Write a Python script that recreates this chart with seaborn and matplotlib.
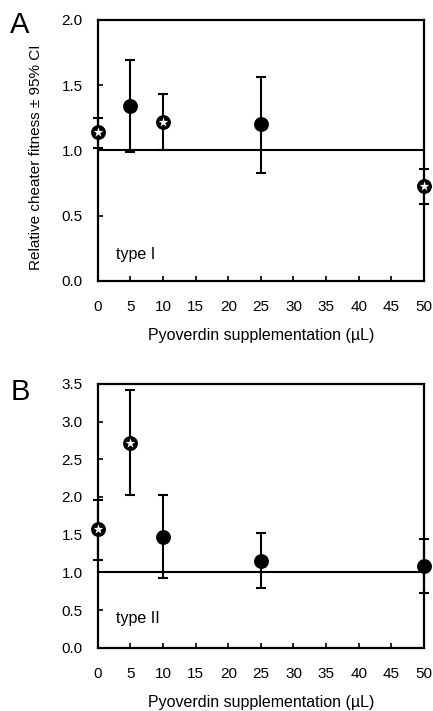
import seaborn as sns
import pandas as pd
import matplotlib.pyplot as plt

# Panel A (type I)
dose_a = [0, 5, 10, 25, 50]
fit_a = [1.14, 1.34, 1.22, 1.20, 0.73]
lo_a = [1.02, 0.99, 1.00, 0.83, 0.59]
hi_a = [1.25, 1.69, 1.43, 1.56, 0.86]
star_a = [True, False, True, False, True]

# Panel B (type II)
dose_b = [0, 5, 10, 25, 50]
fit_b = [1.57, 2.72, 1.47, 1.15, 1.08]
lo_b = [1.16, 2.03, 0.93, 0.79, 0.72]
hi_b = [1.96, 3.42, 2.03, 1.52, 1.44]
star_b = [True, True, False, False, False]

xticks = list(range(0, 55, 5))

sns.set_style("ticks")
plt.rcParams['font.family'] = ['Liberation Sans', 'DejaVu Sans']
plt.rcParams['text.color'] = 'black'
plt.rcParams['axes.labelcolor'] = 'black'

fig = plt.figure(figsize=(4.33, 7.11), dpi=100)
ax_a = fig.add_axes([0.226, 0.605, 0.753, 0.367])
ax_b = fig.add_axes([0.226, 0.089, 0.753, 0.371])


def draw(ax, dose, fit, lo, hi, star, ymax, yticks, label, label_y):
    df = pd.DataFrame({'dose': dose, 'fit': fit, 'lo': lo, 'hi': hi, 'star': star})
    ax.axhline(1.0, color='black', lw=1.5, zorder=1)
    ax.errorbar(df['dose'], df['fit'],
                yerr=[df['fit'] - df['lo'], df['hi'] - df['fit']],
                fmt='none', ecolor='black', elinewidth=1.5, capsize=3.5,
                capthick=1.5, clip_on=False, zorder=2)
    sns.scatterplot(data=df, x='dose', y='fit', ax=ax, color='black',
                    s=115, marker='o', edgecolor='black', linewidth=0,
                    clip_on=False, zorder=3, legend=False)
    sns.scatterplot(data=df[df['star']], x='dose', y='fit', ax=ax,
                    color='white', s=55, marker='*', linewidth=0,
                    clip_on=False, zorder=4, legend=False)
    ax.set_xlim(0, 50)
    ax.set_ylim(0, ymax)
    ax.set_xticks(xticks)
    ax.set_yticks(yticks)
    ax.set_yticklabels([f'{t:.1f}' for t in yticks])
    ax.tick_params(direction='in', length=3.5, width=1.2, labelsize=11,
                   colors='black')
    ax.tick_params(axis='x', pad=14)
    ax.tick_params(axis='y', pad=11)
    for s in ax.spines.values():
        s.set_linewidth(1.6)
        s.set_color('black')
    ax.set_xlabel('Pyoverdin supplementation (µL)', fontsize=11.5, labelpad=10)
    ax.set_ylabel('')
    ax.text(2.8, label_y, label, fontsize=11.5)


draw(ax_a, dose_a, fit_a, lo_a, hi_a, star_a, 2.0,
     [0.0, 0.5, 1.0, 1.5, 2.0], 'type I', 0.17)
draw(ax_b, dose_b, fit_b, lo_b, hi_b, star_b, 3.5,
     [0.0, 0.5, 1.0, 1.5, 2.0, 2.5, 3.0, 3.5], 'type II', 0.33)

ax_a.set_ylabel('Relative cheater fitness ± 95% CI', fontsize=11)
ax_a.yaxis.set_label_coords(-0.168, 0.475)

fig.text(20 / 433, 1 - 25 / 711, 'A', fontsize=21, ha='center', va='center')
fig.text(20 / 433, 1 - 392 / 711, 'B', fontsize=21, ha='center', va='center')

fig.savefig('out.png', dpi=100)
